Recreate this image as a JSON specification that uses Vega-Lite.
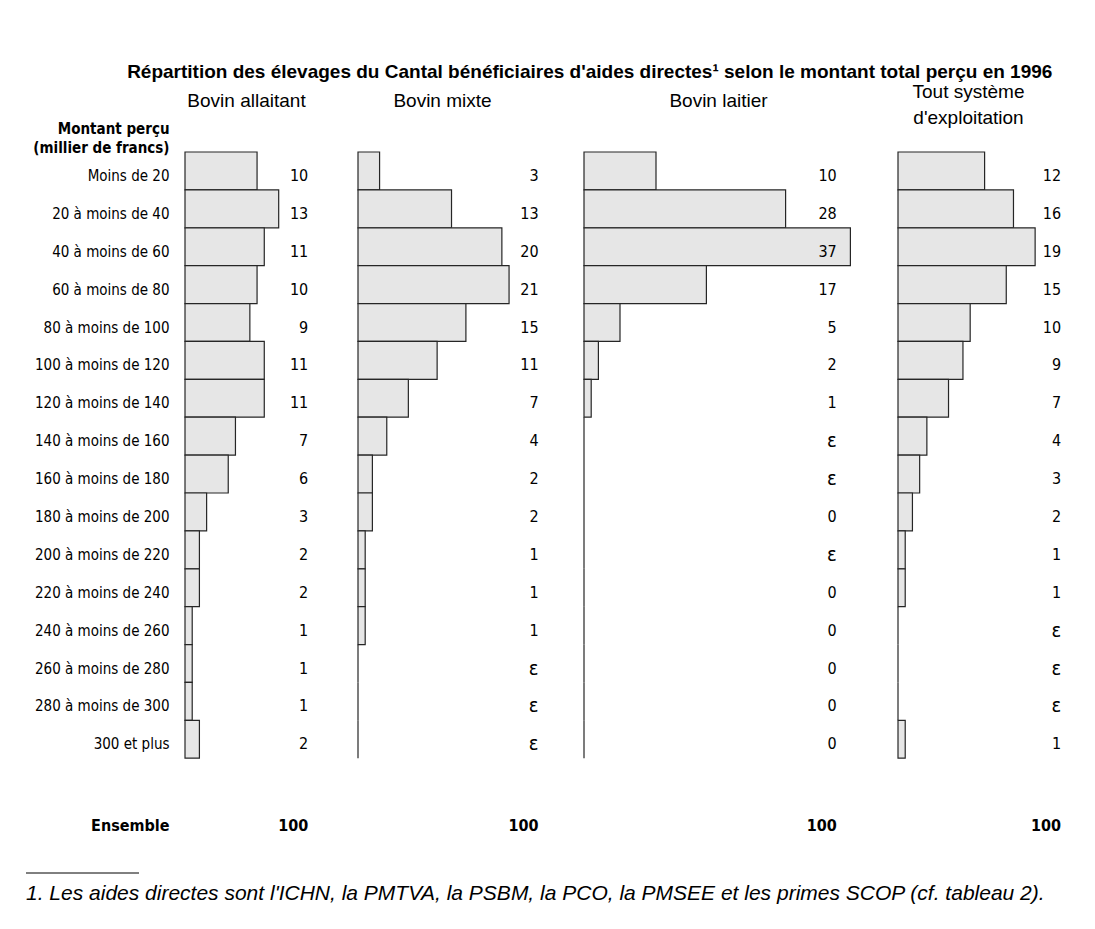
{
  "$schema": "https://vega.github.io/schema/vega-lite/v6.json",
  "padding": {"left": 25, "top": 63, "right": 5, "bottom": 5},
  "title": {
    "text": "Répartition des élevages du Cantal bénéficiaires d'aides directes¹ selon le montant total perçu en 1996",
    "font": "Liberation Sans, Arial, sans-serif",
    "fontSize": 19,
    "fontWeight": "bold",
    "color": "#000000",
    "anchor": "middle",
    "dx": 45,
    "offset": 0
  },
  "config": {
    "view": {"stroke": null},
    "concat": {"spacing": 37}
  },
  "vconcat": [
    {
      "data": {
        "values": [
          {"tranche": "Moins de 20", "systeme": "Bovin allaitant", "valeur": 10, "texte": "10"},
          {"tranche": "20 à moins de 40", "systeme": "Bovin allaitant", "valeur": 13, "texte": "13"},
          {"tranche": "40 à moins de 60", "systeme": "Bovin allaitant", "valeur": 11, "texte": "11"},
          {"tranche": "60 à moins de 80", "systeme": "Bovin allaitant", "valeur": 10, "texte": "10"},
          {"tranche": "80 à moins de 100", "systeme": "Bovin allaitant", "valeur": 9, "texte": "9"},
          {"tranche": "100 à moins de 120", "systeme": "Bovin allaitant", "valeur": 11, "texte": "11"},
          {"tranche": "120 à moins de 140", "systeme": "Bovin allaitant", "valeur": 11, "texte": "11"},
          {"tranche": "140 à moins de 160", "systeme": "Bovin allaitant", "valeur": 7, "texte": "7"},
          {"tranche": "160 à moins de 180", "systeme": "Bovin allaitant", "valeur": 6, "texte": "6"},
          {"tranche": "180 à moins de 200", "systeme": "Bovin allaitant", "valeur": 3, "texte": "3"},
          {"tranche": "200 à moins de 220", "systeme": "Bovin allaitant", "valeur": 2, "texte": "2"},
          {"tranche": "220 à moins de 240", "systeme": "Bovin allaitant", "valeur": 2, "texte": "2"},
          {"tranche": "240 à moins de 260", "systeme": "Bovin allaitant", "valeur": 1, "texte": "1"},
          {"tranche": "260 à moins de 280", "systeme": "Bovin allaitant", "valeur": 1, "texte": "1"},
          {"tranche": "280 à moins de 300", "systeme": "Bovin allaitant", "valeur": 1, "texte": "1"},
          {"tranche": "300 et plus", "systeme": "Bovin allaitant", "valeur": 2, "texte": "2"},
          {"tranche": "Ensemble", "systeme": "Bovin allaitant", "valeur": 100, "texte": "100"},
          {"tranche": "Moins de 20", "systeme": "Bovin mixte", "valeur": 3, "texte": "3"},
          {"tranche": "20 à moins de 40", "systeme": "Bovin mixte", "valeur": 13, "texte": "13"},
          {"tranche": "40 à moins de 60", "systeme": "Bovin mixte", "valeur": 20, "texte": "20"},
          {"tranche": "60 à moins de 80", "systeme": "Bovin mixte", "valeur": 21, "texte": "21"},
          {"tranche": "80 à moins de 100", "systeme": "Bovin mixte", "valeur": 15, "texte": "15"},
          {"tranche": "100 à moins de 120", "systeme": "Bovin mixte", "valeur": 11, "texte": "11"},
          {"tranche": "120 à moins de 140", "systeme": "Bovin mixte", "valeur": 7, "texte": "7"},
          {"tranche": "140 à moins de 160", "systeme": "Bovin mixte", "valeur": 4, "texte": "4"},
          {"tranche": "160 à moins de 180", "systeme": "Bovin mixte", "valeur": 2, "texte": "2"},
          {"tranche": "180 à moins de 200", "systeme": "Bovin mixte", "valeur": 2, "texte": "2"},
          {"tranche": "200 à moins de 220", "systeme": "Bovin mixte", "valeur": 1, "texte": "1"},
          {"tranche": "220 à moins de 240", "systeme": "Bovin mixte", "valeur": 1, "texte": "1"},
          {"tranche": "240 à moins de 260", "systeme": "Bovin mixte", "valeur": 1, "texte": "1"},
          {"tranche": "260 à moins de 280", "systeme": "Bovin mixte", "valeur": 0, "texte": "ε"},
          {"tranche": "280 à moins de 300", "systeme": "Bovin mixte", "valeur": 0, "texte": "ε"},
          {"tranche": "300 et plus", "systeme": "Bovin mixte", "valeur": 0, "texte": "ε"},
          {"tranche": "Ensemble", "systeme": "Bovin mixte", "valeur": 100, "texte": "100"},
          {"tranche": "Moins de 20", "systeme": "Bovin laitier", "valeur": 10, "texte": "10"},
          {"tranche": "20 à moins de 40", "systeme": "Bovin laitier", "valeur": 28, "texte": "28"},
          {"tranche": "40 à moins de 60", "systeme": "Bovin laitier", "valeur": 37, "texte": "37"},
          {"tranche": "60 à moins de 80", "systeme": "Bovin laitier", "valeur": 17, "texte": "17"},
          {"tranche": "80 à moins de 100", "systeme": "Bovin laitier", "valeur": 5, "texte": "5"},
          {"tranche": "100 à moins de 120", "systeme": "Bovin laitier", "valeur": 2, "texte": "2"},
          {"tranche": "120 à moins de 140", "systeme": "Bovin laitier", "valeur": 1, "texte": "1"},
          {"tranche": "140 à moins de 160", "systeme": "Bovin laitier", "valeur": 0, "texte": "ε"},
          {"tranche": "160 à moins de 180", "systeme": "Bovin laitier", "valeur": 0, "texte": "ε"},
          {"tranche": "180 à moins de 200", "systeme": "Bovin laitier", "valeur": 0, "texte": "0"},
          {"tranche": "200 à moins de 220", "systeme": "Bovin laitier", "valeur": 0, "texte": "ε"},
          {"tranche": "220 à moins de 240", "systeme": "Bovin laitier", "valeur": 0, "texte": "0"},
          {"tranche": "240 à moins de 260", "systeme": "Bovin laitier", "valeur": 0, "texte": "0"},
          {"tranche": "260 à moins de 280", "systeme": "Bovin laitier", "valeur": 0, "texte": "0"},
          {"tranche": "280 à moins de 300", "systeme": "Bovin laitier", "valeur": 0, "texte": "0"},
          {"tranche": "300 et plus", "systeme": "Bovin laitier", "valeur": 0, "texte": "0"},
          {"tranche": "Ensemble", "systeme": "Bovin laitier", "valeur": 100, "texte": "100"},
          {"tranche": "Moins de 20", "systeme": "Tout système", "valeur": 12, "texte": "12"},
          {"tranche": "20 à moins de 40", "systeme": "Tout système", "valeur": 16, "texte": "16"},
          {"tranche": "40 à moins de 60", "systeme": "Tout système", "valeur": 19, "texte": "19"},
          {"tranche": "60 à moins de 80", "systeme": "Tout système", "valeur": 15, "texte": "15"},
          {"tranche": "80 à moins de 100", "systeme": "Tout système", "valeur": 10, "texte": "10"},
          {"tranche": "100 à moins de 120", "systeme": "Tout système", "valeur": 9, "texte": "9"},
          {"tranche": "120 à moins de 140", "systeme": "Tout système", "valeur": 7, "texte": "7"},
          {"tranche": "140 à moins de 160", "systeme": "Tout système", "valeur": 4, "texte": "4"},
          {"tranche": "160 à moins de 180", "systeme": "Tout système", "valeur": 3, "texte": "3"},
          {"tranche": "180 à moins de 200", "systeme": "Tout système", "valeur": 2, "texte": "2"},
          {"tranche": "200 à moins de 220", "systeme": "Tout système", "valeur": 1, "texte": "1"},
          {"tranche": "220 à moins de 240", "systeme": "Tout système", "valeur": 1, "texte": "1"},
          {"tranche": "240 à moins de 260", "systeme": "Tout système", "valeur": 0, "texte": "ε"},
          {"tranche": "260 à moins de 280", "systeme": "Tout système", "valeur": 0, "texte": "ε"},
          {"tranche": "280 à moins de 300", "systeme": "Tout système", "valeur": 0, "texte": "ε"},
          {"tranche": "300 et plus", "systeme": "Tout système", "valeur": 1, "texte": "1"},
          {"tranche": "Ensemble", "systeme": "Tout système", "valeur": 100, "texte": "100"}
        ]
      },
      "spacing": 43,
      "resolve": {"scale": {"x": "independent", "y": "independent"}},
      "hconcat": [
        {
          "width": 129,
          "height": 682,
          "transform": [{"filter": "datum.systeme === 'Bovin allaitant'"}],
          "encoding": {
            "y": {
              "field": "tranche", "type": "nominal",
              "scale": {"domain": ["Moins de 20","20 à moins de 40","40 à moins de 60","60 à moins de 80","80 à moins de 100","100 à moins de 120","120 à moins de 140","140 à moins de 160","160 à moins de 180","180 à moins de 200","200 à moins de 220","220 à moins de 240","240 à moins de 260","260 à moins de 280","280 à moins de 300","300 et plus"," ","Ensemble"], "paddingInner": 0, "paddingOuter": 0},
              "axis": {
                "ticks": false, "domain": false, "grid": false,
                "labelPadding": 16,
                "labelFont": "DejaVu Sans Condensed, sans-serif",
                "labelFontSize": {"condition": {"test": "datum.value === 'Ensemble'", "value": 16}, "value": 15},
                "labelColor": "#000000",
                "labelFontWeight": {"condition": {"test": "datum.value === 'Ensemble'", "value": "bold"}, "value": "normal"},
                "labelOffset": {"condition": {"test": "datum.value === 'Ensemble'", "value": 11}, "value": 5},
                "title": ["Montant perçu", "(millier de francs)"],
                "titleFont": "DejaVu Sans Condensed, sans-serif",
                "titleFontSize": 15,
                "titleFontWeight": "bold",
                "titleColor": "#000000",
                "titleAngle": 0,
                "titleAlign": "right",
                "titleBaseline": "middle",
                "titleLineHeight": 19,
                "titleX": -16,
                "titleY": -24
              }
            }
          },
          "layer": [
            {
              "transform": [{"filter": "datum.tranche !== 'Ensemble'"}],
              "mark": {"type": "bar", "fill": "#e6e6e6", "stroke": "#262626", "strokeWidth": 1.2},
              "encoding": {
                "x": {
                  "field": "valeur", "type": "quantitative",
                  "scale": {"domain": [0, 17.9], "nice": false, "zero": true},
                  "axis": {"orient": "top", "labels": false, "ticks": false, "domain": false, "grid": false,
                    "title": "Bovin allaitant", "titleFont": "Liberation Sans, Arial, sans-serif", "titleFontSize": 19, "titleFontWeight": "normal", "titleColor": "#000000", "titleBaseline": "middle", "titleY": -52, "titleX": 61, "titleLineHeight": 26}
                }
              }
            },
            {
              "transform": [{"filter": "datum.tranche !== 'Ensemble'"}],
              "mark": {"type": "text", "align": "right", "baseline": "middle", "dy": 5, "font": "DejaVu Sans Condensed, sans-serif", "color": "#000000"},
              "encoding": {"x": {"datum": 17.1, "type": "quantitative"}, "text": {"field": "texte"}, "size": {"condition": {"test": "datum.texte === 'ε'", "value": 20}, "value": 16}}
            },
            {
              "transform": [{"filter": "datum.tranche === 'Ensemble'"}],
              "mark": {"type": "text", "align": "right", "baseline": "middle", "dy": 11, "font": "DejaVu Sans Condensed, sans-serif", "fontSize": 16, "fontWeight": "bold", "color": "#000000"},
              "encoding": {"x": {"datum": 17.1, "type": "quantitative"}, "text": {"field": "texte"}}
            }
          ]
        },
        {
          "width": 182,
          "height": 682,
          "transform": [{"filter": "datum.systeme === 'Bovin mixte'"}],
          "encoding": {
            "y": {
              "field": "tranche", "type": "nominal",
              "scale": {"domain": ["Moins de 20","20 à moins de 40","40 à moins de 60","60 à moins de 80","80 à moins de 100","100 à moins de 120","120 à moins de 140","140 à moins de 160","160 à moins de 180","180 à moins de 200","200 à moins de 220","220 à moins de 240","240 à moins de 260","260 à moins de 280","280 à moins de 300","300 et plus"," ","Ensemble"], "paddingInner": 0, "paddingOuter": 0},
              "axis": null
            }
          },
          "layer": [
            {
              "transform": [{"filter": "datum.tranche !== 'Ensemble'"}],
              "mark": {"type": "bar", "fill": "#e6e6e6", "stroke": "#262626", "strokeWidth": 1.2},
              "encoding": {
                "x": {
                  "field": "valeur", "type": "quantitative",
                  "scale": {"domain": [0, 25.3], "nice": false, "zero": true},
                  "axis": {"orient": "top", "labels": false, "ticks": false, "domain": false, "grid": false,
                    "title": "Bovin mixte", "titleFont": "Liberation Sans, Arial, sans-serif", "titleFontSize": 19, "titleFontWeight": "normal", "titleColor": "#000000", "titleBaseline": "middle", "titleY": -52, "titleX": 84, "titleLineHeight": 26}
                }
              }
            },
            {
              "transform": [{"filter": "datum.tranche !== 'Ensemble'"}],
              "mark": {"type": "text", "align": "right", "baseline": "middle", "dy": 5, "font": "DejaVu Sans Condensed, sans-serif", "color": "#000000"},
              "encoding": {"x": {"datum": 25.1, "type": "quantitative"}, "text": {"field": "texte"}, "size": {"condition": {"test": "datum.texte === 'ε'", "value": 20}, "value": 16}}
            },
            {
              "transform": [{"filter": "datum.tranche === 'Ensemble'"}],
              "mark": {"type": "text", "align": "right", "baseline": "middle", "dy": 11, "font": "DejaVu Sans Condensed, sans-serif", "fontSize": 16, "fontWeight": "bold", "color": "#000000"},
              "encoding": {"x": {"datum": 25.1, "type": "quantitative"}, "text": {"field": "texte"}}
            }
          ]
        },
        {
          "width": 270,
          "height": 682,
          "transform": [{"filter": "datum.systeme === 'Bovin laitier'"}],
          "encoding": {
            "y": {
              "field": "tranche", "type": "nominal",
              "scale": {"domain": ["Moins de 20","20 à moins de 40","40 à moins de 60","60 à moins de 80","80 à moins de 100","100 à moins de 120","120 à moins de 140","140 à moins de 160","160 à moins de 180","180 à moins de 200","200 à moins de 220","220 à moins de 240","240 à moins de 260","260 à moins de 280","280 à moins de 300","300 et plus"," ","Ensemble"], "paddingInner": 0, "paddingOuter": 0},
              "axis": null
            }
          },
          "layer": [
            {
              "transform": [{"filter": "datum.tranche !== 'Ensemble'"}],
              "mark": {"type": "bar", "fill": "#e6e6e6", "stroke": "#262626", "strokeWidth": 1.2},
              "encoding": {
                "x": {
                  "field": "valeur", "type": "quantitative",
                  "scale": {"domain": [0, 37.5], "nice": false, "zero": true},
                  "axis": {"orient": "top", "labels": false, "ticks": false, "domain": false, "grid": false,
                    "title": "Bovin laitier", "titleFont": "Liberation Sans, Arial, sans-serif", "titleFontSize": 19, "titleFontWeight": "normal", "titleColor": "#000000", "titleBaseline": "middle", "titleY": -52, "titleX": 134, "titleLineHeight": 26}
                }
              }
            },
            {
              "transform": [{"filter": "datum.tranche !== 'Ensemble'"}],
              "mark": {"type": "text", "align": "right", "baseline": "middle", "dy": 5, "font": "DejaVu Sans Condensed, sans-serif", "color": "#000000"},
              "encoding": {"x": {"datum": 35.1, "type": "quantitative"}, "text": {"field": "texte"}, "size": {"condition": {"test": "datum.texte === 'ε'", "value": 20}, "value": 16}}
            },
            {
              "transform": [{"filter": "datum.tranche === 'Ensemble'"}],
              "mark": {"type": "text", "align": "right", "baseline": "middle", "dy": 11, "font": "DejaVu Sans Condensed, sans-serif", "fontSize": 16, "fontWeight": "bold", "color": "#000000"},
              "encoding": {"x": {"datum": 35.1, "type": "quantitative"}, "text": {"field": "texte"}}
            }
          ]
        },
        {
          "width": 166,
          "height": 682,
          "transform": [{"filter": "datum.systeme === 'Tout système'"}],
          "encoding": {
            "y": {
              "field": "tranche", "type": "nominal",
              "scale": {"domain": ["Moins de 20","20 à moins de 40","40 à moins de 60","60 à moins de 80","80 à moins de 100","100 à moins de 120","120 à moins de 140","140 à moins de 160","160 à moins de 180","180 à moins de 200","200 à moins de 220","220 à moins de 240","240 à moins de 260","260 à moins de 280","280 à moins de 300","300 et plus"," ","Ensemble"], "paddingInner": 0, "paddingOuter": 0},
              "axis": null
            }
          },
          "layer": [
            {
              "transform": [{"filter": "datum.tranche !== 'Ensemble'"}],
              "mark": {"type": "bar", "fill": "#e6e6e6", "stroke": "#262626", "strokeWidth": 1.2},
              "encoding": {
                "x": {
                  "field": "valeur", "type": "quantitative",
                  "scale": {"domain": [0, 23], "nice": false, "zero": true},
                  "axis": {"orient": "top", "labels": false, "ticks": false, "domain": false, "grid": false,
                    "title": ["Tout système", "d'exploitation"], "titleFont": "Liberation Sans, Arial, sans-serif", "titleFontSize": 19, "titleFontWeight": "normal", "titleColor": "#000000", "titleBaseline": "middle", "titleY": -61, "titleX": 70, "titleLineHeight": 26}
                }
              }
            },
            {
              "transform": [{"filter": "datum.tranche !== 'Ensemble'"}],
              "mark": {"type": "text", "align": "right", "baseline": "middle", "dy": 5, "font": "DejaVu Sans Condensed, sans-serif", "color": "#000000"},
              "encoding": {"x": {"datum": 22.6, "type": "quantitative"}, "text": {"field": "texte"}, "size": {"condition": {"test": "datum.texte === 'ε'", "value": 20}, "value": 16}}
            },
            {
              "transform": [{"filter": "datum.tranche === 'Ensemble'"}],
              "mark": {"type": "text", "align": "right", "baseline": "middle", "dy": 11, "font": "DejaVu Sans Condensed, sans-serif", "fontSize": 16, "fontWeight": "bold", "color": "#000000"},
              "encoding": {"x": {"datum": 22.6, "type": "quantitative"}, "text": {"field": "texte"}}
            }
          ]
        }
      ]
    },
    {
      "width": 870,
      "height": 30,
      "data": {"values": [{"note": "1. Les aides directes sont l'ICHN, la PMTVA, la PSBM, la PCO, la PMSEE et les primes SCOP (cf. tableau 2)."}]},
      "layer": [
        {
          "mark": {"type": "rule", "color": "#000000", "strokeWidth": 1},
          "encoding": {"x": {"value": -159}, "x2": {"value": -46}, "y": {"value": 0}}
        },
        {
          "mark": {"type": "text", "align": "left", "baseline": "middle", "font": "Liberation Sans, Arial, sans-serif", "fontSize": 21, "fontStyle": "italic", "color": "#000000"},
          "encoding": {"x": {"value": -159}, "y": {"value": 21}, "text": {"field": "note"}}
        }
      ]
    }
  ]
}
